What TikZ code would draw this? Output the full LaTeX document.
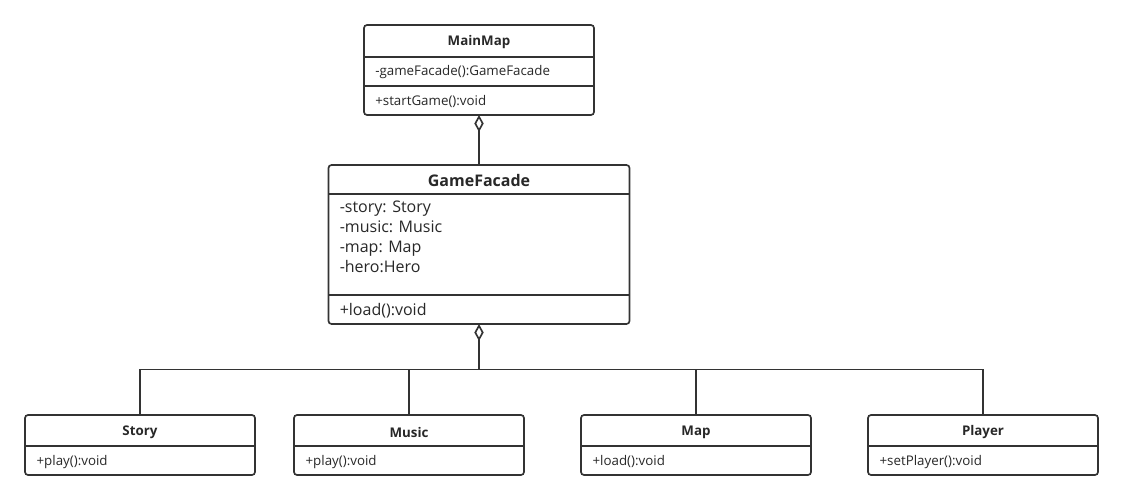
\documentclass[tikz,border=0pt]{standalone}
\usepackage{fontspec}
\setmainfont{Open Sans}
\usepackage{tikz}
\usetikzlibrary{arrows.meta, positioning, calc}
\definecolor{lineGray}{RGB}{51, 51, 51}
\definecolor{textGray}{RGB}{40, 40, 40}
\tikzstyle{line} = [line width=1.25pt, draw=lineGray]
\tikzstyle{classbox} = [rectangle, draw=lineGray, line width=1.25pt, rounded corners=2.25pt, fill=white, outer sep=0pt, minimum width=172.5pt, minimum height=45pt]
\tikzstyle{classname} = [font=\bfseries\fontsize{10}{12}\selectfont, text=textGray, inner sep=0pt]
\tikzstyle{member} = [font=\fontsize{10}{12}\selectfont, text=textGray, inner sep=0pt]
\tikzstyle{aggr} = [line, -{Diamond[open, length=12.75pt, width=7pt]}]

\begin{document}
\begin{tikzpicture}
\useasboundingbox (0,0) rectangle (840.75pt,-375pt);

% MainMap
\node (mainMap) [classbox, minimum width=172.5pt, minimum height=67.5pt, anchor=north west] at (273pt,-18.75pt) {};
\node (mainMapName) [classname] at ($(mainMap.north)+(0,-12.5pt)$) {MainMap};
\draw [line] ($(mainMap.north west)+(0,-24pt)$) -- ($(mainMap.north east)+(0,-24pt)$);
\draw [line] ($(mainMap.north west)+(0,-45.75pt)$) -- ($(mainMap.north east)+(0,-45.75pt)$);
\node (mainMapAttr) [member, anchor=west] at ($(mainMap.north west)+(8.25pt,-35.2pt)$) {-gameFacade():GameFacade};
\node (mainMapOp) [member, anchor=west] at ($(mainMap.north west)+(8.25pt,-57pt)$) {+startGame():void};

% GameFacade
\node (gameFacade) [classbox, minimum width=225.75pt, minimum height=119.25pt, anchor=north, yshift=-37.5pt] at (mainMap.south) {};
\node (gameFacadeName) [classname, font=\bfseries\fontsize{12}{14}\selectfont] at ($(gameFacade.north)+(0,-11.5pt)$) {GameFacade};
\draw [line] ($(gameFacade.north west)+(0,-21.75pt)$) -- ($(gameFacade.north east)+(0,-21.75pt)$);
\draw [line] ($(gameFacade.north west)+(0,-97.5pt)$) -- ($(gameFacade.north east)+(0,-97.5pt)$);
\node (gameFacadeAttr) [member, font=\fontsize{12}{15}\selectfont, align=left, anchor=north west] at ($(gameFacade.north west)+(8.25pt,-26.5pt)$) {-story: Story\\-music: Music\\-map: Map\\-hero:Hero};
\node (gameFacadeOp) [member, font=\fontsize{12}{15}\selectfont, anchor=west] at ($(gameFacade.north west)+(8.25pt,-109.5pt)$) {+load():void};

\draw [aggr] (gameFacade.north) -- (mainMap.south);

% parts
\node (story) [classbox, anchor=north west] at (18.75pt,-311.25pt) {};
\node (music) [classbox, anchor=west, xshift=29.25pt] at (story.east) {};
\node (map) [classbox, anchor=west, xshift=42.75pt] at (music.east) {};
\node (player) [classbox, anchor=west, xshift=42.75pt] at (map.east) {};

\node (storyName) [classname] at ($(story.north)+(0,-13pt)$) {Story};
\node (musicName) [classname] at ($(music.north)+(0,-13pt)$) {Music};
\node (mapName) [classname] at ($(map.north)+(0,-13pt)$) {Map};
\node (playerName) [classname] at ($(player.north)+(0,-13pt)$) {Player};

\draw [line] ($(story.north west)+(0,-23.25pt)$) -- ($(story.north east)+(0,-23.25pt)$);
\draw [line] ($(music.north west)+(0,-23.25pt)$) -- ($(music.north east)+(0,-23.25pt)$);
\draw [line] ($(map.north west)+(0,-23.25pt)$) -- ($(map.north east)+(0,-23.25pt)$);
\draw [line] ($(player.north west)+(0,-23.25pt)$) -- ($(player.north east)+(0,-23.25pt)$);

\node (storyOp) [member, anchor=west] at ($(story.north west)+(8.5pt,-35pt)$) {+play():void};
\node (musicOp) [member, anchor=west] at ($(music.north west)+(8.5pt,-35pt)$) {+play():void};
\node (mapOp) [member, anchor=west] at ($(map.north west)+(8.5pt,-35pt)$) {+load():void};
\node (playerOp) [member, anchor=west] at ($(player.north west)+(8.5pt,-35pt)$) {+setPlayer():void};

\coordinate (bus) at ($(gameFacade.south)+(0,-34pt)$);
\draw [line] (story.north) |- (bus);
\draw [line] (music.north) |- (bus);
\draw [line] (map.north) |- (bus);
\draw [line] (player.north) |- (bus);
\draw [aggr] (bus) -- (gameFacade.south);

\end{tikzpicture}
\end{document}
